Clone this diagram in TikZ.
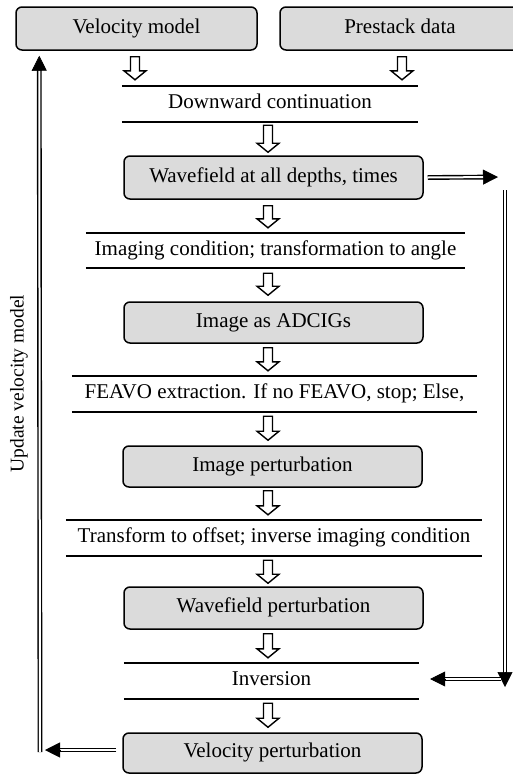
\documentclass[tikz,border=0pt]{standalone}
\usepackage{fontspec}
\setmainfont{Liberation Serif}
\usetikzlibrary{arrows.meta,calc}
\begin{document}
\begin{tikzpicture}[x=1pt,y=-1pt,
  lbl/.style={font=\fontsize{21}{25}\selectfont, text height=14.5pt, text depth=4.6pt},
  box/.style={lbl, draw, line width=1.5pt, rounded corners=6pt, fill=black!14, minimum width=299pt, minimum height=42pt, inner sep=0pt},
  proc/.style={lbl, inner sep=0pt, minimum height=36pt},
  rule/.style={line width=2.2pt},
  hollow/.style={draw, line width=1.4pt, fill=white, line join=miter,
    to path={let \p1=(\tikztostart), \p2=(\tikztotarget) in
      (\x1-4.5pt,\y1) -- (\x1-4.5pt,\y2+9pt) -- (\x1-11pt,\y2+9pt) -- (\x1,\y2)
      -- (\x1+11pt,\y2+9pt) -- (\x1+4.5pt,\y2+9pt) -- (\x1+4.5pt,\y1) -- cycle}},
  dbl/.style={double, double distance=2pt, line width=1.4pt, shorten >=13pt},
  tipst/.style={-{Triangle[length=15pt,width=15pt]}, line width=0.5pt},
]
\useasboundingbox (0,0) rectangle (513,774);

% boxes
\node[box, minimum width=241pt, minimum height=43pt] (vm) at (136.5,28.5) {Velocity model};
\node[box, minimum width=240pt, minimum height=43pt] (pd) at (400,28.5) {Prestack data};
\node[box, minimum height=43pt] (wf) at (273.5,177.5) {Wavefield at all depths, times};
\node[box, minimum height=41pt] (ad) at (273.5,322.5) {Image as ADCIGs};
\node[box, minimum height=41pt] (ip) at (272.5,466.5) {Image perturbation};
\node[box, minimum height=42pt] (wp) at (273.5,608) {Wavefield perturbation};
\node[box, minimum height=40pt] (vp) at (272.5,753) {Velocity perturbation};

% process steps between rules
\node[proc, minimum width=296pt] (dc) at (270,104) {Downward continuation};
\node[proc, minimum width=379pt, minimum height=35pt] (ic) at (275.5,250.5) {Imaging condition; transformation to angle};
\node[proc, minimum width=405pt] (fe) at (274.5,394) {FEAVO extraction. If no FEAVO, stop; Else,};
\node[proc, minimum width=416pt] (tr) at (274,538) {Transform to offset; inverse imaging condition};
\node[proc, minimum width=295pt] (inv) at (271.5,681) {Inversion};
\foreach \n in {dc,ic,fe,tr,inv}
  \draw[rule] (\n.north west) -- (\n.north east) (\n.south west) -- (\n.south east);

% side label
\node[font=\fontsize{19.5}{23}\selectfont, text height=13pt, text depth=4pt, inner sep=0pt, rotate=90] (up) at (19,383.5) {Update velocity model};

% hollow arrows
\coordinate (ax) at (268,0);
\draw[hollow] ($(vm.south)+(-1.5,6)$) to ($(dc.north)+(0,-6)$);
\draw[hollow] ($(pd.south)+(2,6)$) to ($(dc.north)+(0,-6)$);
\draw[hollow] ($(ax|-dc.south)+(0,3)$) to ($(ax|-wf.north)+(0,-3)$);
\draw[hollow] ($(ax|-wf.south)+(0,6)$) to ($(ax|-ic.north)+(0,-5)$);
\draw[hollow] ($(ax|-ic.south)+(0,5)$) to ($(ax|-ad.north)+(0,-6)$);
\draw[hollow] ($(ax|-ad.south)+(0,4)$) to ($(ax|-fe.north)+(0,-5)$);
\draw[hollow] ($(ax|-fe.south)+(0,4)$) to ($(ax|-ip.north)+(0,-5)$);
\draw[hollow] ($(ax|-ip.south)+(0,3)$) to ($(ax|-tr.north)+(0,-5)$);
\draw[hollow] ($(ax|-tr.south)+(0,4)$) to ($(ax|-wp.north)+(0,-3)$);
\draw[hollow] ($(ax|-wp.south)+(0,4)$) to ($(ax|-inv.north)+(0,-5)$);
\draw[hollow] ($(ax|-inv.south)+(0,4)$) to ($(ax|-vp.north)+(0,-5)$);

% feedback double arrows
\coordinate (r1) at (498,177);
\coordinate (r2) at (505,190);
\coordinate (r3) at (505,687);
\coordinate (r4) at (501,679);
\coordinate (l1) at (45,750);
\coordinate (l2) at (40,752);
\coordinate (l5) at ($(inv.east)+(11,-2)$);
\coordinate (l6) at ($(vm.south west)+(24,5)$);
\coordinate (w0) at ($(wf.east)+(4,0)$);
\coordinate (v0) at ($(vp.west)+(-6,-3)$);

\draw[dbl] (w0) -- (r1);  \draw[tipst] ($(r1)!15pt!(w0)$) -- (r1);
\draw[dbl] (r2) -- (r3);  \draw[tipst] ($(r3)!15pt!(r2)$) -- (r3);
\draw[dbl] (r4) -- (l5);  \draw[tipst] ($(l5)!15pt!(r4)$) -- (l5);
\draw[dbl] (v0) -- (l1);  \draw[tipst] ($(l1)!15pt!(v0)$) -- (l1);
\draw[dbl] (l2) -- (l6);  \draw[tipst] ($(l6)!15pt!(l2)$) -- (l6);
\end{tikzpicture}
\end{document}
